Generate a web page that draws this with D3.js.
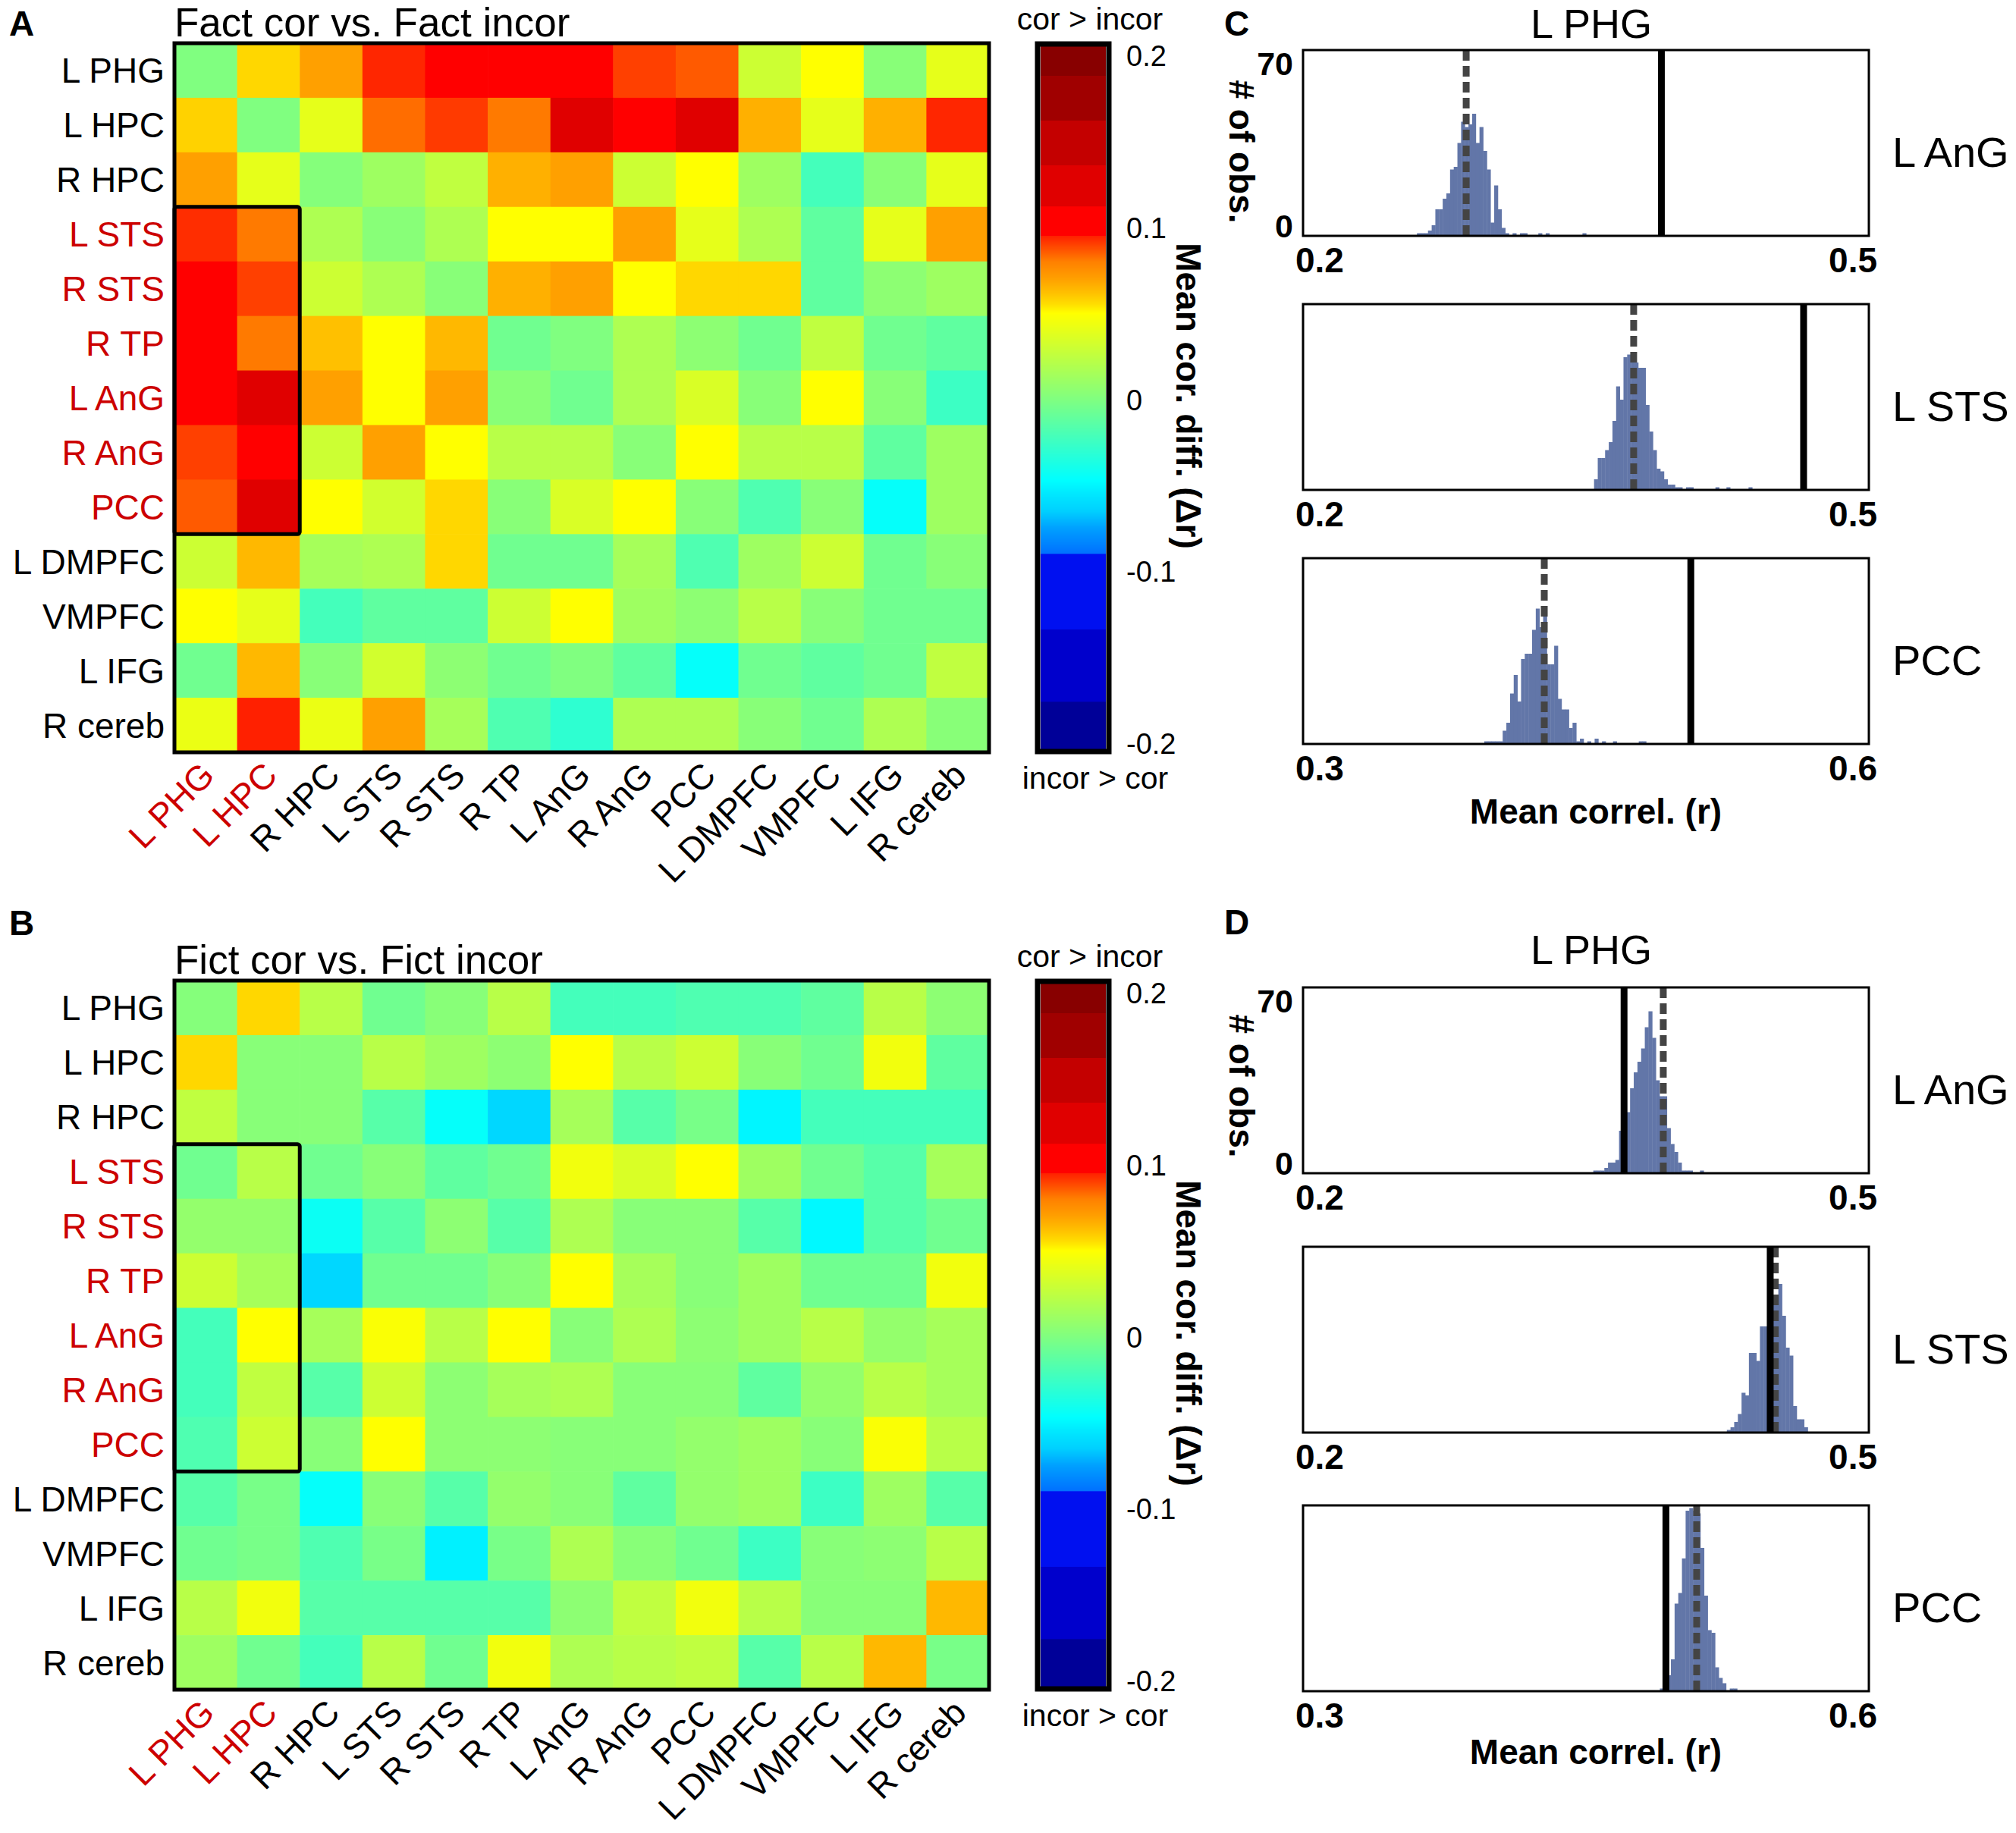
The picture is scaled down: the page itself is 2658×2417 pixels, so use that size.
<!DOCTYPE html>
<html>
<head>
<meta charset="utf-8">
<script src="https://cdn.jsdelivr.net/npm/d3@7"></script>
<style>
  body { margin: 0; background: #fff; }
  svg text { font-family: "Liberation Sans", Arial, Helvetica, sans-serif; }
</style>
</head>
<body>
<svg id="fig" width="2658" height="2417"></svg>
<script>
"use strict";

// ---- data ----
var regions = ["L PHG", "L HPC", "R HPC", "L STS", "R STS", "R TP", "L AnG", "R AnG", "PCC", "L DMPFC", "VMPFC", "L IFG", "R cereb"];
var redRows = ["L STS", "R STS", "R TP", "L AnG", "R AnG", "PCC"];
var redCols = ["L PHG", "L HPC"];

// Fact cor vs. Fact incor (mean cor. diff, rows x columns in region order)
var factDiff = [
  [0.000, 0.057, 0.070, 0.094, 0.105, 0.105, 0.105, 0.090, 0.086, 0.030, 0.050, 0.003, 0.040],
  [0.058, 0.000, 0.040, 0.083, 0.091, 0.081, 0.120, 0.105, 0.120, 0.066, 0.040, 0.066, 0.094],
  [0.070, 0.040, 0.002, 0.012, 0.025, 0.066, 0.070, 0.030, 0.050, 0.012, -0.022, 0.003, 0.040],
  [0.093, 0.081, 0.018, 0.003, 0.018, 0.050, 0.050, 0.070, 0.040, 0.018, -0.012, 0.040, 0.070],
  [0.105, 0.090, 0.030, 0.018, 0.003, 0.066, 0.070, 0.050, 0.057, 0.057, -0.012, 0.005, 0.012],
  [0.105, 0.081, 0.062, 0.050, 0.064, -0.006, 0.000, 0.018, 0.005, -0.006, 0.025, -0.006, -0.012],
  [0.105, 0.120, 0.070, 0.050, 0.070, 0.003, -0.006, 0.018, 0.035, 0.003, 0.050, 0.003, -0.025],
  [0.090, 0.105, 0.030, 0.070, 0.050, 0.022, 0.022, 0.003, 0.050, 0.022, 0.022, -0.012, 0.012],
  [0.086, 0.120, 0.050, 0.032, 0.057, 0.003, 0.035, 0.050, 0.003, -0.018, 0.003, -0.045, 0.012],
  [0.030, 0.064, 0.015, 0.018, 0.057, -0.006, -0.006, 0.015, -0.018, 0.012, 0.030, -0.006, 0.003],
  [0.050, 0.040, -0.022, -0.012, -0.012, 0.030, 0.050, 0.012, 0.005, 0.022, 0.003, -0.006, -0.006],
  [-0.006, 0.064, 0.003, 0.032, 0.005, -0.006, 0.000, -0.012, -0.045, -0.006, -0.012, -0.006, 0.025],
  [0.042, 0.095, 0.042, 0.070, 0.015, -0.018, -0.030, 0.018, 0.018, 0.003, -0.006, 0.018, 0.003]
];

// Fict cor vs. Fict incor
var fictDiff = [
  [0.002, 0.057, 0.022, -0.006, 0.003, 0.022, -0.022, -0.022, -0.018, -0.018, -0.012, 0.022, 0.005],
  [0.057, 0.003, 0.003, 0.022, 0.012, 0.005, 0.050, 0.022, 0.030, 0.003, -0.006, 0.045, -0.012],
  [0.025, 0.003, 0.003, -0.015, -0.045, -0.062, 0.015, -0.015, -0.003, -0.050, -0.022, -0.022, -0.022],
  [-0.006, 0.022, -0.006, 0.003, -0.012, -0.006, 0.045, 0.035, 0.050, 0.012, -0.006, -0.015, 0.015],
  [0.008, 0.008, -0.043, -0.015, 0.005, -0.015, 0.018, 0.003, 0.003, -0.015, -0.049, -0.015, -0.006],
  [0.030, 0.015, -0.062, -0.006, -0.006, 0.003, 0.050, 0.015, 0.003, 0.012, -0.006, -0.006, 0.045],
  [-0.022, 0.050, 0.015, 0.048, 0.022, 0.050, 0.003, 0.018, 0.005, 0.012, 0.022, 0.008, 0.015],
  [-0.022, 0.025, -0.015, 0.030, 0.005, 0.015, 0.018, 0.003, 0.003, -0.012, 0.008, 0.022, 0.015],
  [-0.018, 0.030, 0.003, 0.050, 0.005, 0.005, 0.003, 0.003, 0.008, 0.012, 0.003, 0.048, 0.022],
  [-0.015, -0.003, -0.045, 0.003, -0.015, 0.008, 0.003, -0.012, 0.008, 0.012, -0.025, 0.012, -0.015],
  [-0.006, -0.003, -0.018, -0.003, -0.052, -0.003, 0.018, 0.003, -0.006, -0.025, 0.003, 0.005, 0.022],
  [0.022, 0.045, -0.015, -0.015, -0.015, -0.015, 0.005, 0.025, 0.045, 0.022, 0.003, 0.003, 0.064],
  [0.012, -0.006, -0.022, 0.022, -0.006, 0.045, 0.018, 0.022, 0.025, -0.015, 0.022, 0.064, -0.003]
];

var cbarTicks = [0.2, 0.1, 0, -0.1, -0.2];
var cbarTickLabels = ["0.2", "0.1", "0", "-0.1", "-0.2"];

// colormap stops (value -> colour)
var cmapStops = [-0.2, -0.176, -0.1759, -0.134, -0.1339, -0.09, -0.0899, -0.075, -0.065, -0.055, -0.047, 0,
  0.05, 0.055, 0.062, 0.07, 0.08, 0.09, 0.095, 0.0951, 0.112, 0.1121, 0.136, 0.1361, 0.162, 0.1621, 0.188, 0.1881, 0.2];
var cmapColors = ["#000098", "#000098", "#0000cc", "#0000cc", "#0010f0", "#0010f0", "#0070ff", "#00a0ff", "#00d0ff", "#00e8ff", "#00ffff", "#80ff80",
  "#ffff00", "#ffe000", "#ffc000", "#ffa000", "#ff8000", "#ff4000", "#ff2000", "#ff0000", "#ff0000", "#e00000", "#e00000", "#c40000", "#c40000", "#a00000", "#a00000", "#880000", "#880000"];

// permutation histograms (counts per bin), bin width in r
var binWidth = 0.00195;
var histRows = ["L AnG", "L STS", "PCC"];
var histDomains = [[0.2, 0.5], [0.2, 0.5], [0.3, 0.6]];

var factLAnG = [1, 1, 1, 2, 4, 10, 10, 14, 16, 25, 26, 35, 43, 41, 42, 46, 35, 41, 32, 25, 5, 19, 10, 3, 1, 0, 1, 0, 1, 1, 0, 0, 0, 1, 0, 1, 0, 0, 0, 0, 0, 0, 0, 0, 0, 1];
var factLSTS = [4, 12, 12, 15, 18, 26, 39, 34, 50, 51, 48, 48, 46, 46, 32, 22, 15, 8, 7, 4, 2, 2, 1, 1, 0, 1, 1, 0, 0, 0, 0, 0, 0, 1, 0, 0, 1, 0, 0, 0, 0, 0, 1];
var factPCC = [1, 1, 1, 1, 1, 5, 8, 19, 26, 16, 32, 34, 34, 43, 51, 44, 48, 30, 30, 37, 17, 13, 13, 6, 8, 1, 2, 0, 1, 0, 2, 0, 1, 0, 0, 1, 0, 0, 0, 0, 0, 0, 1, 1];
var factBinStart = [0.2604, 0.3543, 0.3961];
var factObserved = [0.390, 0.4654, 0.5056];
var factPermMean = [0.2865, 0.3753, 0.4279];

var fictLAnG = [1, 1, 1, 2, 4, 4, 5, 16, 20, 23, 32, 38, 42, 47, 55, 61, 51, 35, 29, 29, 17, 11, 8, 4, 1, 1, 1, 0, 0, 1];
var fictLSTS = [1, 2, 4, 7, 15, 14, 30, 30, 27, 40, 40, 48, 50, 52, 56, 44, 32, 29, 10, 5, 5, 2];
var fictPCC = [1, 3, 6, 12, 33, 37, 50, 68, 69, 68, 67, 54, 36, 23, 22, 9, 5, 3, 0, 1, 1];
var fictBinStart = [0.3539, 0.4247, 0.4892];
var fictObserved = [0.3702, 0.4477, 0.4924];
var fictPermMean = [0.391, 0.4504, 0.5087];

// ---- drawing ----
var svg = d3.select("#fig");
var red = "#cc0000";
var cmap = d3.scaleLinear().domain(cmapStops).range(cmapColors).clamp(true);

function panelLetter(txt, x, y) {
  svg.append("text").attr("x", x).attr("y", y)
    .attr("font-size", 46).attr("font-weight", "bold").text(txt);
}

function drawHeatmap(top, title, values) {
  var x = d3.scaleBand().domain(regions).range([230, 1304]);
  var y = d3.scaleBand().domain(regions).range([top, top + 935]);
  var g = svg.append("g");

  var cells = [];
  values.forEach(function (row, i) {
    row.forEach(function (v, j) {
      cells.push({ row: regions[i], col: regions[j], v: v });
    });
  });

  g.selectAll("rect.cell").data(cells).enter().append("rect")
    .attr("class", "cell")
    .attr("x", function (d) { return x(d.col); })
    .attr("y", function (d) { return y(d.row); })
    .attr("width", x.bandwidth() + 0.6)
    .attr("height", y.bandwidth() + 0.6)
    .attr("fill", function (d) { return cmap(d.v); });

  g.append("rect")
    .attr("x", x.range()[0]).attr("y", top)
    .attr("width", x.range()[1] - x.range()[0]).attr("height", 935)
    .attr("fill", "none").attr("stroke", "#000").attr("stroke-width", 5);

  // highlighted block: red columns x red rows
  g.append("rect")
    .attr("x", x(redCols[0])).attr("y", y(redRows[0]))
    .attr("width", x.bandwidth() * redCols.length)
    .attr("height", y.bandwidth() * redRows.length)
    .attr("rx", 3)
    .attr("fill", "none").attr("stroke", "#000").attr("stroke-width", 5);

  g.selectAll("text.rowlab").data(regions).enter().append("text")
    .attr("class", "rowlab")
    .attr("x", 217)
    .attr("y", function (d) { return y(d) + y.bandwidth() / 2 + 16.5; })
    .attr("text-anchor", "end").attr("font-size", 46)
    .attr("fill", function (d) { return redRows.indexOf(d) >= 0 ? red : "#000"; })
    .text(function (d) { return d; });

  g.selectAll("text.collab").data(regions).enter().append("text")
    .attr("class", "collab")
    .attr("transform", function (d) {
      return "translate(" + (x(d) + x.bandwidth() / 2 + 14) + "," + (top + 935 + 33) + ") rotate(-45)";
    })
    .attr("text-anchor", "end").attr("font-size", 46)
    .attr("fill", function (d) { return redCols.indexOf(d) >= 0 ? red : "#000"; })
    .text(function (d) { return d; });

  g.append("text").attr("x", 230).attr("y", top - 9)
    .attr("font-size", 53).text(title);
}

function drawColorbar(top) {
  var g = svg.append("g");
  var cy = d3.scaleLinear().domain([0.2, -0.2]).range([top + 16, top + 923]);
  var rows = d3.range(top, top + 935, 1);
  g.selectAll("rect.cb").data(rows).enter().append("rect")
    .attr("class", "cb")
    .attr("x", 1372).attr("width", 86)
    .attr("y", function (p) { return p; })
    .attr("height", 1.5)
    .attr("fill", function (p) { return cmap(cy.invert(p + 0.5)); });
  g.append("rect")
    .attr("x", 1368).attr("y", top + 1).attr("width", 94).attr("height", 933)
    .attr("fill", "none").attr("stroke", "#000").attr("stroke-width", 7);

  g.selectAll("text.cbt").data(cbarTicks).enter().append("text")
    .attr("class", "cbt")
    .attr("x", 1485)
    .attr("y", function (v) { return cy(v) + 14; })
    .attr("font-size", 38)
    .text(function (v, i) { return cbarTickLabels[i]; });

  g.append("text").attr("x", 1437).attr("y", top - 18)
    .attr("text-anchor", "middle").attr("font-size", 41).text("cor > incor");
  g.append("text").attr("x", 1444).attr("y", top + 935 + 48)
    .attr("text-anchor", "middle").attr("font-size", 41).text("incor > cor");
  g.append("text")
    .attr("transform", "translate(1551," + (top + 465) + ") rotate(90)")
    .attr("text-anchor", "middle").attr("font-size", 46).attr("font-weight", "bold")
    .text("Mean cor. diff. (\u0394r)");
}

function drawHist(top, idx, counts, start, observed, permMean, showY) {
  var bottom = top + 245;
  var dom = histDomains[idx];
  var x = d3.scaleLinear().domain(dom).range([1718, 2464]);
  var y = d3.scaleLinear().domain([0, 70]).range([bottom, top]);
  var g = svg.append("g");

  var bins = counts.map(function (c, i) { return { x0: start + i * binWidth, c: c }; })
    .filter(function (d) { return d.c > 0; });

  g.selectAll("rect.bar").data(bins).enter().append("rect")
    .attr("class", "bar")
    .attr("x", function (d) { return x(d.x0); })
    .attr("width", function (d) { return x(d.x0 + binWidth) - x(d.x0) + 0.4; })
    .attr("y", function (d) { return y(d.c); })
    .attr("height", function (d) { return bottom - y(d.c); })
    .attr("fill", "#6276a8");

  g.append("line")
    .attr("x1", x(permMean)).attr("x2", x(permMean))
    .attr("y1", top).attr("y2", bottom)
    .attr("stroke", "#444").attr("stroke-width", 9).attr("stroke-dasharray", "14,7");
  g.append("line")
    .attr("x1", x(observed)).attr("x2", x(observed))
    .attr("y1", top).attr("y2", bottom)
    .attr("stroke", "#000").attr("stroke-width", 9);

  g.append("rect")
    .attr("x", x.range()[0]).attr("y", top)
    .attr("width", x.range()[1] - x.range()[0]).attr("height", 245)
    .attr("fill", "none").attr("stroke", "#000").attr("stroke-width", 3);

  var fmt = d3.format(".1f");
  g.append("text").attr("x", x.range()[0] - 10).attr("y", bottom + 48)
    .attr("font-size", 46).attr("font-weight", "bold").text(fmt(dom[0]));
  g.append("text").attr("x", x.range()[1] + 11).attr("y", bottom + 48)
    .attr("text-anchor", "end").attr("font-size", 46).attr("font-weight", "bold").text(fmt(dom[1]));

  if (showY) {
    g.append("text").attr("x", 1705).attr("y", y(70) + 33)
      .attr("text-anchor", "end").attr("font-size", 43).attr("font-weight", "bold").text("70");
    g.append("text").attr("x", 1705).attr("y", y(0) + 2)
      .attr("text-anchor", "end").attr("font-size", 43).attr("font-weight", "bold").text("0");
  }

  g.append("text").attr("x", 2495).attr("y", (top + bottom) / 2 + 31)
    .attr("font-size", 56).text(histRows[idx]);
}

function drawHistPanel(tops, series, starts, observed, permMean, titleY, yLabY, xLabY) {
  series.forEach(function (counts, i) {
    drawHist(tops[i], i, counts, starts[i], observed[i], permMean[i], i === 0);
  });
  svg.append("text").attr("x", 2098).attr("y", titleY)
    .attr("text-anchor", "middle").attr("font-size", 54).text("L PHG");
  svg.append("text")
    .attr("transform", "translate(1621," + yLabY + ") rotate(90)")
    .attr("text-anchor", "middle").attr("font-size", 46).attr("font-weight", "bold")
    .text("# of obs.");
  svg.append("text").attr("x", 2104).attr("y", xLabY)
    .attr("text-anchor", "middle").attr("font-size", 46).attr("font-weight", "bold")
    .text("Mean correl. (r)");
}

drawHeatmap(57, "Fact cor vs. Fact incor", factDiff);
drawColorbar(57);
drawHeatmap(1293, "Fict cor vs. Fict incor", fictDiff);
drawColorbar(1293);

drawHistPanel([66, 401, 736], [factLAnG, factLSTS, factPCC], factBinStart, factObserved, factPermMean, 50, 200, 1086);
drawHistPanel([1302, 1644, 1985], [fictLAnG, fictLSTS, fictPCC], fictBinStart, fictObserved, fictPermMean, 1271, 1432, 2326);

panelLetter("A", 12, 47);
panelLetter("B", 12, 1233);
panelLetter("C", 1614, 47);
panelLetter("D", 1614, 1232);
</script>
</body>
</html>
